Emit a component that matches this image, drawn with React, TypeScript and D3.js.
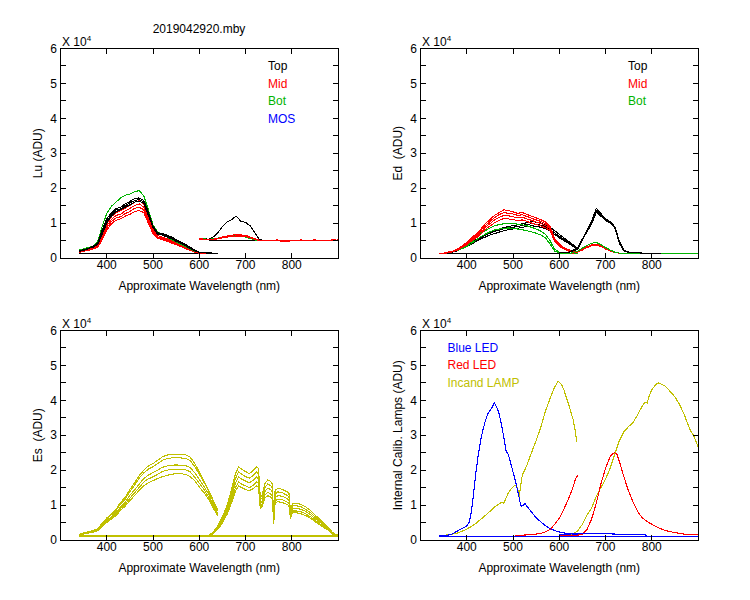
import React from "react";
import * as d3 from "d3";

// ---------- wavelength grids (nm) ----------
const WL_A = [340, 350, 360, 370, 380, 390, 400, 410, 420, 430, 440, 450, 460, 470, 480, 490, 500, 510, 520, 530, 540, 550, 560, 570, 580, 590, 600, 610, 620, 630, 640];
const WL_B = [600, 610, 620, 630, 640, 650, 660, 670, 680, 690, 700, 710, 720, 730, 740, 750, 760, 770, 780, 790, 800, 810, 820, 830, 840, 850, 860, 870, 880, 890, 900];
const WL_ED_TOP_B = [600, 610, 620, 630, 640, 650, 660, 670, 680, 690, 700, 710, 720, 730, 740, 750, 760, 770, 780, 790, 800, 810, 820];
const WL_ES_B = [600, 610, 620, 630, 640, 650, 660, 670, 678, 685, 692, 700, 708, 716, 724, 728, 732, 736, 742, 748, 754, 758, 761, 764, 770, 780, 790, 794, 797, 802, 810, 820, 830, 840, 850, 860, 870, 880, 888, 894, 900];
const WL_FLAT_A = [340, 640];
const WL_FLAT_ALL = [340, 900];
const WL_LU_FLAT_B = [620, 900];

const X_TICKS = [400, 500, 600, 700, 800];
const Y_LABELS = [0, 1, 2, 3, 4, 5, 6];
const Y_TICKS = [0.5, 1, 1.5, 2, 2.5, 3, 3.5, 4, 4.5, 5, 5.5];

// ---------- Lu (x 10^4 ADU) ----------
const LU_BASE_A = [0.12, 0.12];
const LU_BASE_B = [0.5, 0.5];
const LU_TOP_A1 = [0.2, 0.24, 0.27, 0.33, 0.42, 0.8, 1.12, 1.3, 1.42, 1.45, 1.55, 1.62, 1.7, 1.72, 1.65, 1.32, 0.92, 0.72, 0.7, 0.66, 0.6, 0.53, 0.46, 0.39, 0.31, 0.23, 0.17, 0.15, 0.15, 0.14, 0.14];
const LU_TOP_A2 = [0.19, 0.22, 0.28, 0.3, 0.4, 0.72, 1.05, 1.25, 1.38, 1.4, 1.5, 1.58, 1.64, 1.68, 1.6, 1.28, 0.9, 0.7, 0.68, 0.63, 0.57, 0.5, 0.44, 0.37, 0.29, 0.22, 0.16, 0.15, 0.14, 0.14, 0.14];
const LU_TOP_A3 = [0.2, 0.23, 0.26, 0.32, 0.38, 0.68, 1.0, 1.2, 1.33, 1.38, 1.46, 1.52, 1.6, 1.63, 1.56, 1.22, 0.88, 0.68, 0.66, 0.6, 0.55, 0.48, 0.42, 0.35, 0.27, 0.21, 0.16, 0.15, 0.14, 0.14, 0.14];
const LU_MID_A1 = [0.18, 0.22, 0.25, 0.3, 0.36, 0.65, 0.98, 1.18, 1.3, 1.35, 1.43, 1.5, 1.6, 1.64, 1.55, 1.2, 0.82, 0.64, 0.6, 0.55, 0.5, 0.44, 0.38, 0.32, 0.26, 0.2, 0.15, 0.14, 0.13, 0.13, 0.13];
const LU_MID_A2 = [0.17, 0.21, 0.24, 0.28, 0.34, 0.6, 0.92, 1.1, 1.22, 1.25, 1.35, 1.42, 1.5, 1.55, 1.46, 1.12, 0.78, 0.6, 0.57, 0.52, 0.47, 0.42, 0.36, 0.3, 0.24, 0.19, 0.15, 0.14, 0.13, 0.13, 0.13];
const LU_MID_A3 = [0.17, 0.2, 0.23, 0.27, 0.32, 0.56, 0.86, 1.04, 1.15, 1.18, 1.27, 1.33, 1.42, 1.46, 1.38, 1.06, 0.74, 0.58, 0.55, 0.5, 0.45, 0.4, 0.35, 0.29, 0.23, 0.18, 0.14, 0.13, 0.13, 0.13, 0.13];
const LU_MID_A4 = [0.16, 0.19, 0.22, 0.26, 0.3, 0.52, 0.8, 0.98, 1.08, 1.12, 1.2, 1.25, 1.33, 1.36, 1.3, 1.0, 0.7, 0.56, 0.53, 0.48, 0.43, 0.38, 0.33, 0.27, 0.22, 0.17, 0.14, 0.13, 0.13, 0.13, 0.13];
const LU_BOT_A = [0.23, 0.26, 0.3, 0.34, 0.45, 0.9, 1.28, 1.48, 1.6, 1.72, 1.8, 1.83, 1.9, 1.93, 1.78, 1.38, 0.95, 0.74, 0.68, 0.6, 0.53, 0.46, 0.39, 0.32, 0.26, 0.2, 0.16, 0.15, 0.14, 0.14, 0.14];
const LU_TOP_B = [0.55, 0.55, 0.54, 0.6, 0.72, 0.9, 1.03, 1.1, 1.2, 1.05, 1.02, 0.92, 0.72, 0.53, 0.5, 0.5, 0.5, 0.5, 0.5, 0.5, 0.5, 0.5, 0.5, 0.5, 0.5, 0.5, 0.5, 0.5, 0.5, 0.5, 0.5];
const LU_MID_B1 = [0.55, 0.54, 0.53, 0.54, 0.56, 0.6, 0.63, 0.65, 0.67, 0.66, 0.65, 0.6, 0.55, 0.51, 0.5, 0.5, 0.5, 0.52, 0.46, 0.5, 0.51, 0.5, 0.5, 0.49, 0.5, 0.52, 0.5, 0.5, 0.51, 0.5, 0.52];
const LU_MID_B2 = [0.54, 0.53, 0.52, 0.53, 0.55, 0.58, 0.6, 0.62, 0.63, 0.63, 0.62, 0.58, 0.54, 0.5, 0.5, 0.49, 0.5, 0.5, 0.5, 0.47, 0.5, 0.5, 0.52, 0.5, 0.5, 0.5, 0.49, 0.5, 0.5, 0.53, 0.5];
const LU_BOT_B = [0.56, 0.55, 0.53, 0.55, 0.57, 0.6, 0.62, 0.63, 0.64, 0.62, 0.6, 0.56, 0.52, 0.5, 0.5, 0.5, 0.5, 0.5, 0.5, 0.5, 0.5, 0.5, 0.5, 0.5, 0.5, 0.5, 0.5, 0.5, 0.5, 0.5, 0.5];

// ---------- Ed ----------
const ED_BASE_A = [0.13, 0.13];
const ED_TOP_A1 = [0.13, 0.14, 0.16, 0.19, 0.24, 0.3, 0.36, 0.44, 0.52, 0.6, 0.66, 0.72, 0.76, 0.8, 0.84, 0.87, 0.88, 0.9, 0.93, 0.96, 0.98, 0.97, 0.94, 0.9, 0.82, 0.72, 0.62, 0.54, 0.45, 0.35, 0.25];
const ED_TOP_A2 = [0.13, 0.14, 0.15, 0.18, 0.22, 0.28, 0.34, 0.42, 0.5, 0.58, 0.65, 0.71, 0.77, 0.82, 0.87, 0.9, 0.93, 0.95, 0.98, 1.01, 1.04, 1.03, 1.0, 0.95, 0.88, 0.78, 0.68, 0.58, 0.48, 0.38, 0.27];
const ED_TOP_A3 = [0.13, 0.13, 0.15, 0.17, 0.21, 0.27, 0.32, 0.4, 0.47, 0.55, 0.6, 0.66, 0.7, 0.74, 0.78, 0.81, 0.83, 0.85, 0.88, 0.9, 0.92, 0.91, 0.88, 0.84, 0.77, 0.68, 0.58, 0.5, 0.42, 0.33, 0.24];
const ED_MID_A1 = [0.13, 0.14, 0.17, 0.2, 0.26, 0.35, 0.44, 0.58, 0.68, 0.82, 0.98, 1.1, 1.22, 1.3, 1.38, 1.36, 1.32, 1.28, 1.3, 1.25, 1.2, 1.15, 1.1, 1.03, 0.92, 0.55, 0.4, 0.3, 0.24, 0.19, 0.16];
const ED_MID_A2 = [0.13, 0.14, 0.16, 0.19, 0.25, 0.33, 0.42, 0.55, 0.65, 0.78, 0.93, 1.04, 1.16, 1.24, 1.3, 1.28, 1.26, 1.22, 1.24, 1.19, 1.14, 1.09, 1.05, 0.98, 0.88, 0.52, 0.38, 0.28, 0.22, 0.18, 0.15];
const ED_MID_A3 = [0.13, 0.14, 0.16, 0.19, 0.24, 0.31, 0.4, 0.52, 0.61, 0.73, 0.88, 0.98, 1.09, 1.16, 1.22, 1.21, 1.18, 1.15, 1.17, 1.12, 1.08, 1.03, 0.99, 0.93, 0.84, 0.5, 0.36, 0.27, 0.21, 0.17, 0.15];
const ED_MID_A4 = [0.13, 0.13, 0.15, 0.18, 0.23, 0.3, 0.37, 0.49, 0.57, 0.68, 0.82, 0.91, 1.01, 1.08, 1.13, 1.12, 1.1, 1.07, 1.09, 1.05, 1.0, 0.96, 0.92, 0.87, 0.79, 0.47, 0.34, 0.26, 0.2, 0.17, 0.15];
const ED_BOT_A1 = [0.13, 0.14, 0.16, 0.19, 0.24, 0.3, 0.36, 0.46, 0.58, 0.7, 0.78, 0.86, 0.92, 0.96, 0.98, 1.0, 0.99, 0.97, 0.95, 0.92, 0.88, 0.83, 0.77, 0.68, 0.5, 0.25, 0.17, 0.15, 0.14, 0.14, 0.14];
const ED_BOT_A2 = [0.13, 0.13, 0.15, 0.18, 0.22, 0.27, 0.33, 0.41, 0.51, 0.61, 0.68, 0.75, 0.8, 0.83, 0.85, 0.86, 0.85, 0.83, 0.81, 0.78, 0.75, 0.71, 0.66, 0.58, 0.4, 0.2, 0.15, 0.14, 0.14, 0.14, 0.14];
const ED_TOP_B1 = [0.15, 0.15, 0.16, 0.2, 0.26, 0.5, 0.8, 1.05, 1.42, 1.28, 1.1, 1.02, 0.88, 0.42, 0.2, 0.16, 0.15, 0.15, 0.14, 0.14, 0.14, 0.14, 0.13];
const ED_TOP_B2 = [0.15, 0.15, 0.16, 0.21, 0.28, 0.52, 0.78, 1.0, 1.35, 1.22, 1.08, 1.0, 0.86, 0.45, 0.22, 0.16, 0.15, 0.15, 0.14, 0.14, 0.14, 0.14, 0.13];
const ED_TOP_B3 = [0.15, 0.15, 0.16, 0.22, 0.3, 0.55, 0.75, 0.98, 1.3, 1.2, 1.12, 1.04, 0.9, 0.48, 0.22, 0.17, 0.15, 0.15, 0.14, 0.14, 0.14, 0.14, 0.13];
const ED_MID_B1 = [0.13, 0.13, 0.13, 0.14, 0.18, 0.25, 0.32, 0.38, 0.4, 0.35, 0.28, 0.22, 0.17, 0.14, 0.13, 0.13, 0.13, 0.13, 0.13, 0.13, 0.13, 0.13, 0.13, 0.13, 0.13, 0.13, 0.13, 0.13, 0.13, 0.13, 0.13];
const ED_MID_B2 = [0.13, 0.13, 0.13, 0.14, 0.17, 0.23, 0.3, 0.35, 0.37, 0.33, 0.26, 0.2, 0.16, 0.14, 0.13, 0.13, 0.13, 0.13, 0.13, 0.13, 0.13, 0.13, 0.13, 0.13, 0.13, 0.13, 0.13, 0.13, 0.13, 0.13, 0.13];
const ED_BOT_B = [0.13, 0.13, 0.13, 0.15, 0.2, 0.28, 0.36, 0.42, 0.45, 0.38, 0.3, 0.23, 0.17, 0.14, 0.13, 0.13, 0.13, 0.13, 0.13, 0.13, 0.13, 0.13, 0.13, 0.13, 0.13, 0.13, 0.13, 0.13, 0.13, 0.13, 0.13];

// ---------- Es ----------
const ES_BASE = [0.114, 0.114];
const ES_A1 = [0.16, 0.2, 0.24, 0.27, 0.32, 0.48, 0.63, 0.75, 0.88, 1.08, 1.22, 1.45, 1.63, 1.84, 2.0, 2.12, 2.19, 2.28, 2.38, 2.43, 2.45, 2.46, 2.45, 2.44, 2.38, 2.2, 1.95, 1.7, 1.44, 1.14, 0.85];
const ES_A2 = [0.16, 0.19, 0.23, 0.26, 0.31, 0.46, 0.61, 0.72, 0.85, 1.04, 1.17, 1.39, 1.56, 1.77, 1.92, 2.03, 2.1, 2.19, 2.28, 2.33, 2.35, 2.36, 2.35, 2.34, 2.28, 2.11, 1.89, 1.66, 1.4, 1.1, 0.82];
const ES_A3 = [0.15, 0.18, 0.21, 0.24, 0.28, 0.42, 0.56, 0.66, 0.78, 0.95, 1.08, 1.28, 1.43, 1.6, 1.76, 1.86, 1.93, 2.0, 2.08, 2.12, 2.14, 2.15, 2.14, 2.13, 2.08, 1.93, 1.73, 1.54, 1.32, 1.01, 0.76];
const ES_A4 = [0.15, 0.17, 0.2, 0.23, 0.27, 0.4, 0.53, 0.62, 0.73, 0.9, 1.02, 1.2, 1.35, 1.5, 1.66, 1.75, 1.81, 1.88, 1.96, 2.0, 2.02, 2.03, 2.02, 2.01, 1.96, 1.8, 1.63, 1.45, 1.24, 0.95, 0.72];
const ES_A5 = [0.15, 0.18, 0.2, 0.22, 0.26, 0.38, 0.5, 0.6, 0.7, 0.85, 0.97, 1.13, 1.27, 1.42, 1.55, 1.64, 1.7, 1.76, 1.81, 1.85, 1.88, 1.9, 1.9, 1.88, 1.82, 1.7, 1.52, 1.36, 1.17, 0.92, 0.7];
const ES_B1 = [0.12, 0.12, 0.13, 0.22, 0.4, 0.66, 0.98, 1.45, 1.88, 2.1, 2.02, 1.96, 1.9, 1.98, 2.1, 2.05, 1.22, 1.3, 1.62, 1.72, 1.68, 1.6, 0.62, 1.42, 1.48, 1.45, 1.38, 1.33, 0.85, 1.05, 1.05, 1.02, 0.95, 0.85, 0.72, 0.6, 0.47, 0.36, 0.22, 0.16, 0.15];
const ES_B2 = [0.12, 0.12, 0.13, 0.21, 0.38, 0.62, 0.92, 1.35, 1.75, 1.95, 1.88, 1.82, 1.77, 1.84, 1.95, 1.9, 1.14, 1.21, 1.5, 1.6, 1.56, 1.49, 0.58, 1.32, 1.38, 1.35, 1.28, 1.24, 0.8, 0.98, 0.98, 0.95, 0.88, 0.79, 0.67, 0.56, 0.44, 0.34, 0.21, 0.16, 0.15];
const ES_B3 = [0.12, 0.12, 0.13, 0.2, 0.35, 0.57, 0.85, 1.25, 1.62, 1.8, 1.74, 1.69, 1.64, 1.7, 1.8, 1.76, 1.05, 1.12, 1.39, 1.48, 1.45, 1.38, 0.54, 1.22, 1.27, 1.25, 1.19, 1.14, 0.74, 0.9, 0.9, 0.88, 0.82, 0.73, 0.62, 0.52, 0.41, 0.31, 0.2, 0.15, 0.15];
const ES_B4 = [0.12, 0.12, 0.13, 0.19, 0.32, 0.52, 0.78, 1.15, 1.49, 1.66, 1.6, 1.55, 1.5, 1.56, 1.66, 1.62, 0.97, 1.03, 1.28, 1.36, 1.33, 1.26, 0.5, 1.12, 1.17, 1.15, 1.09, 1.05, 0.68, 0.83, 0.83, 0.81, 0.75, 0.67, 0.57, 0.47, 0.37, 0.28, 0.18, 0.15, 0.15];
const ES_B5 = [0.12, 0.12, 0.13, 0.18, 0.3, 0.49, 0.73, 1.07, 1.39, 1.55, 1.5, 1.45, 1.41, 1.47, 1.55, 1.52, 0.9, 0.96, 1.2, 1.27, 1.24, 1.18, 0.46, 1.05, 1.1, 1.07, 1.02, 0.98, 0.63, 0.78, 0.78, 0.75, 0.7, 0.63, 0.53, 0.44, 0.35, 0.27, 0.17, 0.14, 0.14];

// ---------- Internal calibration lamps ----------
const CAL_BASE = [0.11, 0.11];
const WL_BLUE_A = [340, 350, 360, 370, 380, 390, 400, 405, 410, 415, 420, 425, 430, 435, 440, 445, 450, 455, 460, 465, 470, 475, 480, 485, 490, 495, 500, 505, 510, 515, 518, 522, 526, 530, 540, 550, 560, 570, 580, 590, 600, 610, 620, 630, 640];
const BLUE_A = [0.12, 0.13, 0.14, 0.18, 0.26, 0.33, 0.4, 0.5, 0.8, 1.35, 1.95, 2.45, 2.85, 3.15, 3.4, 3.6, 3.7, 3.8, 3.93, 3.8, 3.62, 3.3, 2.95, 2.55, 2.45, 2.2, 1.95, 1.7, 1.42, 1.1, 0.95, 1.0, 1.05, 0.97, 0.8, 0.64, 0.52, 0.41, 0.33, 0.27, 0.23, 0.2, 0.19, 0.17, 0.16];
const WL_BLUE_B = [600, 620, 640, 660, 680, 700, 720, 740, 760, 780, 790];
const BLUE_B = [0.15, 0.17, 0.18, 0.19, 0.19, 0.18, 0.17, 0.16, 0.16, 0.15, 0.14];
const WL_RED_A = [505, 520, 540, 550, 560, 570, 580, 590, 600, 610, 620, 630, 635, 640];
const RED_A = [0.13, 0.14, 0.15, 0.17, 0.19, 0.23, 0.3, 0.45, 0.62, 0.88, 1.18, 1.52, 1.75, 1.85];
const WL_RED_B = [600, 620, 640, 650, 660, 670, 680, 690, 700, 710, 715, 720, 725, 730, 740, 750, 760, 770, 780, 790, 800, 810, 820, 830, 840, 850, 860, 870, 880, 890, 900];
const RED_B = [0.13, 0.13, 0.14, 0.17, 0.3, 0.6, 1.05, 1.6, 2.05, 2.38, 2.47, 2.5, 2.45, 2.25, 1.8, 1.4, 1.08, 0.8, 0.63, 0.53, 0.45, 0.38, 0.32, 0.27, 0.24, 0.21, 0.19, 0.17, 0.16, 0.15, 0.15];
const WL_LAMP_A = [340, 350, 360, 370, 380, 390, 400, 410, 420, 430, 440, 450, 460, 470, 475, 480, 485, 490, 495, 500, 505, 510, 513, 516, 520, 530, 540, 550, 560, 570, 580, 590, 598, 605, 610, 620, 630, 635, 638];
const LAMP_A = [0.12, 0.13, 0.15, 0.17, 0.2, 0.25, 0.31, 0.39, 0.48, 0.59, 0.7, 0.82, 0.94, 1.03, 1.08, 1.05, 1.2, 1.35, 1.45, 1.52, 1.57, 1.5, 1.22, 1.5, 1.85, 2.14, 2.5, 2.85, 3.22, 3.68, 4.05, 4.38, 4.55, 4.45, 4.3, 3.9, 3.45, 3.1, 2.8];
const WL_LAMP_B = [600, 620, 630, 640, 650, 660, 670, 680, 690, 700, 710, 720, 730, 740, 750, 760, 770, 780, 785, 790, 795, 800, 810, 815, 820, 830, 840, 850, 860, 870, 880, 885, 890, 895, 900];
const LAMP_B = [0.14, 0.16, 0.18, 0.26, 0.45, 0.72, 0.92, 1.25, 1.5, 1.74, 2.05, 2.45, 2.85, 3.1, 3.25, 3.37, 3.6, 3.85, 3.95, 3.92, 4.15, 4.3, 4.47, 4.5, 4.47, 4.4, 4.25, 4.1, 3.88, 3.6, 3.25, 3.1, 3.0, 2.85, 2.68];

// ---------- colours ----------
const BLACK = "#000000";
const RED = "#ff0000";
const GREEN = "#00b400";
const BLUE = "#0000ff";
const YELLOW = "#c0c000";

type Series = { x: number[]; y: number[]; color: string };
type LegendItem = { text: string; color: string };

const FONT = "'Liberation Sans', Arial, sans-serif";

const PLOT_W = 277.5;
const PLOT_H = 209.5;

function Panel(props: {
  left: number;
  top: number;
  yLabel: string;
  series: Series[];
  legend: LegendItem[];
  legendX: number;
  legendY: number;
}) {
  const { left, top, yLabel, series, legend, legendX, legendY } = props;
  const x = d3.scaleLinear().domain([300, 900]).range([left, left + PLOT_W]);
  const y = d3.scaleLinear().domain([0, 6]).range([top + PLOT_H, top]);
  const bottom = top + PLOT_H;
  const right = left + PLOT_W;
  return (
    <g>
      <defs>
        <clipPath id={`clip-${left}-${top}`}>
          <rect x={left} y={top} width={PLOT_W} height={PLOT_H} />
        </clipPath>
      </defs>
      <g clipPath={`url(#clip-${left}-${top})`}>
        {series.map((s, i) => {
          const line = d3
            .line<number>()
            .x((_, j) => x(s.x[j]))
            .y((d) => y(d));
          return (
            <path
              key={i}
              d={line(s.y) || ""}
              fill="none"
              stroke={s.color}
              strokeWidth={1.1}
              shapeRendering="crispEdges"
            />
          );
        })}
      </g>
      <rect x={left} y={top} width={PLOT_W} height={PLOT_H} fill="none" stroke="#000" strokeWidth={1} shapeRendering="crispEdges" />
      {Y_TICKS.map((t) => (
        <g key={`yt${t}`} shapeRendering="crispEdges" stroke="#000">
          <line x1={left} x2={left + 5} y1={y(t)} y2={y(t)} />
          <line x1={right - 5} x2={right} y1={y(t)} y2={y(t)} />
        </g>
      ))}
      {X_TICKS.map((t) => (
        <g key={`xt${t}`} shapeRendering="crispEdges" stroke="#000">
          <line x1={x(t)} x2={x(t)} y1={bottom} y2={bottom - 5} />
          <line x1={x(t)} x2={x(t)} y1={top} y2={top + 5} />
        </g>
      ))}
      {Y_LABELS.map((t) => (
        <text key={`yl${t}`} x={left - 3.5} y={y(t) + 4.2} textAnchor="end" fontSize={12} fontFamily={FONT} fill="#000">
          {t}
        </text>
      ))}
      {X_TICKS.map((t) => (
        <text key={`xl${t}`} x={x(t)} y={bottom + 11} textAnchor="middle" fontSize={12} fontFamily={FONT} fill="#000">
          {t}
        </text>
      ))}
      <text x={left + 1.5} y={top - 2.5} fontSize={12} fontFamily={FONT} fill="#000">
        X 10
        <tspan fontSize={8} dy={-5}>4</tspan>
      </text>
      <text
        transform={`translate(${left - 19},${top + PLOT_H / 2}) rotate(-90)`}
        textAnchor="middle"
        fontSize={12}
        fontFamily={FONT}
        fill="#000"
        style={{ whiteSpace: "pre" }}
      >
        {yLabel}
      </text>
      <text x={left + PLOT_W / 2} y={bottom + 32} textAnchor="middle" fontSize={12} fontFamily={FONT} fill="#000">
        Approximate Wavelength (nm)
      </text>
      {legend.map((l, i) => (
        <text key={l.text} x={legendX} y={legendY + i * 17.5} fontSize={12} fontFamily={FONT} fill={l.color}>
          {l.text}
        </text>
      ))}
    </g>
  );
}

export default function App() {
  const luSeries: Series[] = [
    { x: WL_FLAT_A, y: LU_BASE_A, color: BLACK },
    { x: WL_LU_FLAT_B, y: LU_BASE_B, color: BLACK },
    { x: WL_A, y: LU_MID_A1, color: RED },
    { x: WL_A, y: LU_MID_A2, color: RED },
    { x: WL_A, y: LU_MID_A3, color: RED },
    { x: WL_A, y: LU_MID_A4, color: RED },
    { x: WL_A, y: LU_BOT_A, color: GREEN },
    { x: WL_A, y: LU_TOP_A1, color: BLACK },
    { x: WL_A, y: LU_TOP_A2, color: BLACK },
    { x: WL_A, y: LU_TOP_A3, color: BLACK },
    { x: WL_B, y: LU_TOP_B, color: BLACK },
    { x: WL_B, y: LU_BOT_B, color: GREEN },
    { x: WL_B, y: LU_MID_B2, color: RED },
    { x: WL_B, y: LU_MID_B1, color: RED },
  ];
  const edSeries: Series[] = [
    { x: WL_FLAT_A, y: ED_BASE_A, color: BLACK },
    { x: WL_A, y: ED_TOP_A1, color: BLACK },
    { x: WL_A, y: ED_TOP_A2, color: BLACK },
    { x: WL_A, y: ED_TOP_A3, color: BLACK },
    { x: WL_A, y: ED_BOT_A1, color: GREEN },
    { x: WL_A, y: ED_BOT_A2, color: GREEN },
    { x: WL_A, y: ED_MID_A1, color: RED },
    { x: WL_A, y: ED_MID_A2, color: RED },
    { x: WL_A, y: ED_MID_A3, color: RED },
    { x: WL_A, y: ED_MID_A4, color: RED },
    { x: WL_B, y: ED_MID_B1, color: RED },
    { x: WL_B, y: ED_MID_B2, color: RED },
    { x: WL_B, y: ED_BOT_B, color: GREEN },
    { x: WL_ED_TOP_B, y: ED_TOP_B1, color: BLACK },
    { x: WL_ED_TOP_B, y: ED_TOP_B2, color: BLACK },
    { x: WL_ED_TOP_B, y: ED_TOP_B3, color: BLACK },
  ];
  const esSeries: Series[] = [
    { x: WL_FLAT_ALL, y: ES_BASE, color: YELLOW },
    { x: WL_A, y: ES_A1, color: YELLOW },
    { x: WL_A, y: ES_A2, color: YELLOW },
    { x: WL_A, y: ES_A3, color: YELLOW },
    { x: WL_A, y: ES_A4, color: YELLOW },
    { x: WL_A, y: ES_A5, color: YELLOW },
    { x: WL_ES_B, y: ES_B1, color: YELLOW },
    { x: WL_ES_B, y: ES_B2, color: YELLOW },
    { x: WL_ES_B, y: ES_B3, color: YELLOW },
    { x: WL_ES_B, y: ES_B4, color: YELLOW },
    { x: WL_ES_B, y: ES_B5, color: YELLOW },
  ];
  const calSeries: Series[] = [
    { x: WL_LAMP_A, y: LAMP_A, color: YELLOW },
    { x: WL_LAMP_B, y: LAMP_B, color: YELLOW },
    { x: WL_RED_A, y: RED_A, color: RED },
    { x: WL_RED_B, y: RED_B, color: RED },
    { x: WL_FLAT_ALL, y: CAL_BASE, color: BLUE },
    { x: WL_BLUE_A, y: BLUE_A, color: BLUE },
    { x: WL_BLUE_B, y: BLUE_B, color: BLUE },
  ];

  return (
    <svg
      width={750}
      height={600}
      viewBox="0 0 750 600"
      style={{ position: "absolute", left: 0, top: 0, background: "#fff" }}
    >
      <rect x={0} y={0} width={750} height={600} fill="#fff" />
      <text x={199} y={33.3} textAnchor="middle" fontSize={12} fontFamily={FONT} fill="#000">
        2019042920.mby
      </text>
      <Panel
        left={60.5}
        top={48.5}
        yLabel="Lu (ADU)"
        series={luSeries}
        legend={[
          { text: "Top", color: BLACK },
          { text: "Mid", color: RED },
          { text: "Bot", color: GREEN },
          { text: "MOS", color: BLUE },
        ]}
        legendX={268}
        legendY={70}
      />
      <Panel
        left={420.5}
        top={48.5}
        yLabel="Ed  (ADU)"
        series={edSeries}
        legend={[
          { text: "Top", color: BLACK },
          { text: "Mid", color: RED },
          { text: "Bot", color: GREEN },
        ]}
        legendX={628}
        legendY={70}
      />
      <Panel
        left={60.5}
        top={330.5}
        yLabel="Es  (ADU)"
        series={esSeries}
        legend={[]}
        legendX={0}
        legendY={0}
      />
      <Panel
        left={420.5}
        top={330.5}
        yLabel="Internal Calib. Lamps (ADU)"
        series={calSeries}
        legend={[
          { text: "Blue LED", color: BLUE },
          { text: "Red LED", color: RED },
          { text: "Incand LAMP", color: YELLOW },
        ]}
        legendX={447.5}
        legendY={351.7}
      />
    </svg>
  );
}
